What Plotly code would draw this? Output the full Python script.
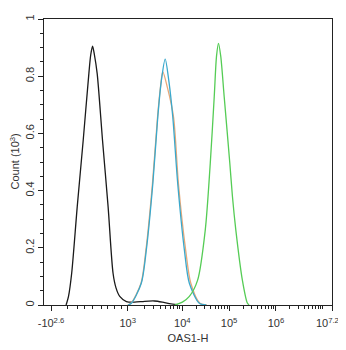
import plotly.graph_objects as go
import math

# x values are positions on the logicle display axis (10^4 -> 4, 10^5 -> 5, ...)
black_x = [1.511, 1.526, 1.564, 1.632, 1.751, 1.879, 2.000, 2.040, 2.079, 2.118, 2.177, 2.291, 2.411, 2.517, 2.580, 2.660, 2.802, 2.979, 3.191, 3.404, 3.574, 3.723, 3.894]
black_y = [0.0, 0.007, 0.03, 0.111, 0.344, 0.577, 0.81, 0.875, 0.905, 0.875, 0.81, 0.577, 0.344, 0.111, 0.06, 0.03, 0.012, 0.01, 0.013, 0.014, 0.01, 0.005, 0.001]

orange_x = [2.830, 2.900, 3.115, 3.220, 3.360, 3.465, 3.530, 3.581, 3.680, 3.810, 3.915, 4.070, 4.180, 4.375, 4.520]
orange_y = [0.0, 0.006, 0.076, 0.192, 0.425, 0.65, 0.76, 0.815, 0.76, 0.658, 0.425, 0.192, 0.076, 0.006, 0.0]

cyan_x = [2.836, 2.909, 3.121, 3.228, 3.368, 3.474, 3.547, 3.632, 3.713, 3.794, 3.900, 4.043, 4.149, 4.362, 4.511]
cyan_y = [0.0, 0.006, 0.076, 0.192, 0.425, 0.658, 0.78, 0.86, 0.78, 0.658, 0.425, 0.192, 0.076, 0.006, 0.0]

green_x = [3.830, 4.000, 4.149, 4.326, 4.489, 4.596, 4.681, 4.730, 4.772, 4.820, 4.894, 5.015, 5.070, 5.143, 5.283, 5.389, 5.426]
green_y = [0.0, 0.01, 0.03, 0.087, 0.262, 0.495, 0.728, 0.87, 0.915, 0.87, 0.728, 0.495, 0.38, 0.262, 0.087, 0.007, 0.0]

x_tick_vals = [1.19, 2.83, 4, 5, 6, 7.2]
x_tick_text = ["-10<sup>2.6</sup>", "10<sup>3</sup>", "10<sup>4</sup>", "10<sup>5</sup>", "10<sup>6</sup>",
               "10<sup>7.2</sup>&nbsp;&nbsp;&nbsp;"]
y_tick_vals = [0, 0.2, 0.4, 0.6, 0.8, 1]
y_tick_text = ["0", "0.2", "0.4", "0.6", "0.8", "1"]
x_title = "OAS1-H"
y_title = "Count (10<sup>3</sup>)"


def dec_to_u(d):
    if d >= 4:
        return d
    return 4 - (4 - d) * 55 / 47


minor_x = []
for dec in range(3, 7):
    for k in range(2, 10):
        u = dec_to_u(dec + math.log10(k))
        if u < 7.2:
            minor_x.append(u)
minor_x.append(7.0)
for px in [67, 78, 85, 93, 102, 108, 115, 122]:
    minor_x.append(4 + (px - 183) / 47)

fig = go.Figure()
series = [
    (black_x, black_y, "#1a1a1a"),
    (orange_x, orange_y, "#e9a877"),
    (cyan_x, cyan_y, "#3aa8cc"),
    (green_x, green_y, "#55cc55"),
]
for xs, ys, col in series:
    fig.add_trace(go.Scatter(x=xs, y=ys, mode="lines",
                             line=dict(color=col, width=1.3, shape="spline", smoothing=0.8),
                             showlegend=False, hoverinfo="skip"))

font = dict(family="Liberation Sans, Arial, sans-serif", size=11, color="#333333")
# page body adds an 8px offset, so the figure is sized to fill the rest of the window
fig.update_layout(
    width=338, height=342,
    margin=dict(l=36, r=14, t=11, b=45),
    plot_bgcolor="white", paper_bgcolor="white",
    font=font,
    xaxis=dict(range=[1.04, 7.2], tickmode="array", tickvals=x_tick_vals, ticktext=x_tick_text,
               automargin=False, ticklabeloverflow="allow", ticklabelstandoff=3,
               showgrid=False, zeroline=False, showline=True, linecolor="#222222", linewidth=1,
               mirror=True, ticks="outside", ticklen=5, tickcolor="#222222",
               minor=dict(tickmode="array", tickvals=minor_x, ticks="outside", ticklen=3, tickcolor="#222222"),
               title=dict(text=x_title, font=font, standoff=6)),
    yaxis=dict(range=[0, 1], tickmode="array", tickvals=y_tick_vals, ticktext=y_tick_text,
               tickangle=-90, automargin=False, ticklabelstandoff=0, ticklabeloverflow="allow",
               showgrid=False, zeroline=False, showline=True, linecolor="#222222", linewidth=1,
               mirror=True, ticks="outside", ticklen=5, tickcolor="#222222",
               minor=dict(dtick=0.05, ticks="outside", ticklen=3, tickcolor="#222222")),
    annotations=[dict(text=y_title, xref="paper", yref="paper", x=-29.5 / 288, y=0.5,
                      xanchor="center", yanchor="middle", textangle=-90, showarrow=False, font=font)],
)
fig.write_html("out.html")
